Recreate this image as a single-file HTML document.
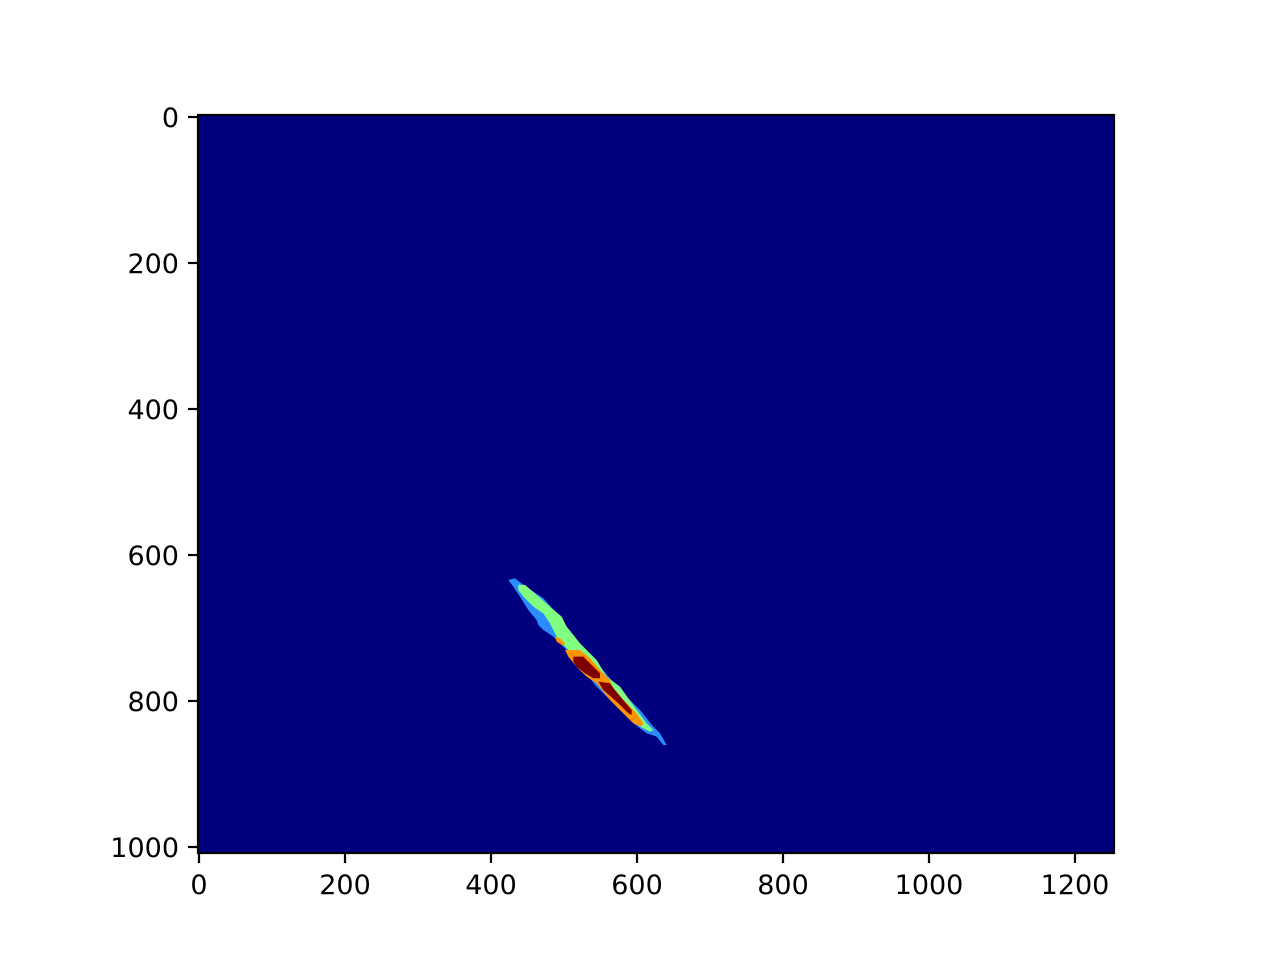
<!DOCTYPE html>
<html><head><meta charset="utf-8"><style>
html,body{margin:0;padding:0;background:#fff;}
svg{display:block;font-family:"DejaVu Sans","Liberation Sans",sans-serif;}
</style></head><body>
<svg id="chart" width="1280" height="960"></svg>
<script>
const xTicks=[0,200,400,600,800,1000,1200];
const yTicks=[0,200,400,600,800,1000];
const blueRegion=[[423.7,634.2],[432.8,631.9],[444.3,641.0],[471.7,659.3],[489.9,679.9],[503.6,698.1],[521.9,721.0],[549.3,752.9],[576.7,784.9],[604.1,812.3],[622.3,835.1],[631.5,844.2],[640.6,860.2],[636.0,860.2],[626.9,848.8],[613.2,844.2],[594.9,830.5],[567.5,803.1],[544.7,780.3],[526.5,757.5],[503.6,730.1],[485.4,711.8],[471.7,702.7],[464.8,695.8],[462.5,689.0],[451.1,675.3],[439.7,657.0],[430.6,643.3]];
const greenRegion=[[437.4,641.0],[446.5,641.0],[462.5,654.7],[480.8,670.7],[496.8,684.4],[503.6,698.1],[521.9,721.0],[544.7,743.8],[558.4,766.6],[576.7,780.3],[599.5,812.3],[613.2,830.5],[622.3,839.7],[617.8,842.0],[604.1,835.1],[585.8,821.4],[563.0,794.0],[544.7,771.2],[531.0,762.1],[517.3,743.8],[489.9,711.8],[480.8,693.6],[471.7,679.9],[458.0,670.7],[444.3,657.0],[437.4,647.9]];
const orangeRegion=[[501.3,730.1],[521.9,730.1],[535.6,741.5],[549.3,757.5],[563.0,771.2],[567.5,784.9],[585.8,803.1],[599.5,816.8],[608.6,830.5],[606.4,835.1],[594.9,830.5],[581.2,816.8],[563.0,798.6],[544.7,775.7],[531.0,766.6],[517.3,753.0],[506.0,739.2]];
const orangeSpot=[[487.6,711.8],[494.5,714.1],[501.3,720.9],[499.1,724.6],[489.9,718.7]];
const redRegion1=[[512.8,739.2],[526.5,739.2],[540.2,752.9],[549.3,762.0],[549.3,768.9],[540.2,768.9],[528.7,762.0],[517.3,752.9],[512.8,746.1]];
const redRegion2=[[547.0,773.5],[563.0,775.7],[569.8,784.9],[581.2,798.6],[592.7,812.3],[592.7,819.1],[588.1,816.8],[574.4,803.1],[563.0,793.0],[553.8,784.9]];
const NS="http://www.w3.org/2000/svg";
const svg=document.getElementById('chart');
const L=198,T=115,R=1114,B=853;
const sx=v=>199+v*0.73, sy=v=>117+v*0.73;
function mk(t,a){const e=document.createElementNS(NS,t);for(const k in a)e.setAttribute(k,a[k]);svg.appendChild(e);return e;}
const bg=mk('rect',{x:L,y:T,width:R-L,height:B-T,fill:'#00007f'});


const layers=[[blueRegion,'#2a8cff','region-low'],[greenRegion,'#80ff80','region-mid'],[orangeRegion,'#ff9400','region-high'],[orangeSpot,'#ff9400','region-high-spot'],[redRegion1,'#800000','region-peak-1'],[redRegion2,'#800000','region-peak-2']];
layers.forEach(([pts,c,n])=>{
  const p=mk('polygon',{points:pts.map(q=>sx(q[0])+','+sy(q[1])).join(' '),fill:c});
  
  
});
const fr=mk('rect',{x:L,y:T,width:R-L,height:B-T,fill:'none',stroke:'#000','stroke-width':2.2});


xTicks.forEach(v=>{
  const x=sx(v);
  mk('line',{x1:x,y1:B,x2:x,y2:B+10,stroke:'#000','stroke-width':2.2});
  const t=mk('text',{x:x,y:B+41,'text-anchor':'middle','font-size':27});
  t.textContent=v;
  
  
});
yTicks.forEach(v=>{
  const y=sy(v);
  mk('line',{x1:L,y1:y,x2:L-10,y2:y,stroke:'#000','stroke-width':2.2});
  const t=mk('text',{x:L-19,y:y+10,'text-anchor':'end','font-size':27});
  t.textContent=v;
  
  
});
</script>
</body></html>
